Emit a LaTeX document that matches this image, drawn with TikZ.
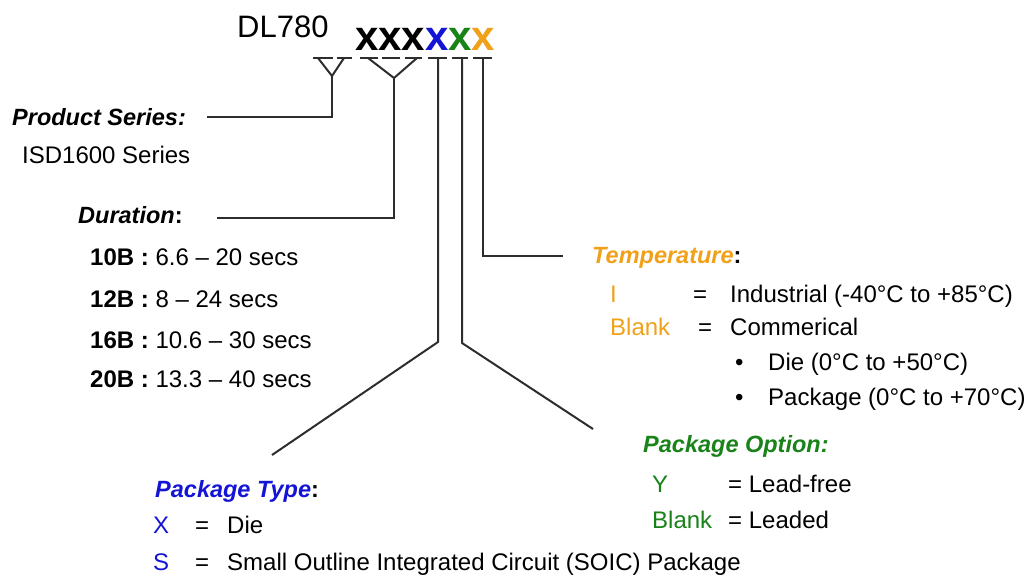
\documentclass[tikz,border=0pt]{standalone}
\usepackage{fontspec}
\setmainfont{Liberation Sans}
\definecolor{ptblue}{RGB}{20,20,215}
\definecolor{ptgreen}{RGB}{25,130,25}
\definecolor{ptorange}{RGB}{240,160,25}
\definecolor{lngray}{RGB}{45,45,45}
\begin{document}
\begin{tikzpicture}[x=1pt, y=-1pt,
		txt/.style={anchor=base west, inner sep=0pt, font=\fontsize{24}{28}\selectfont},
		hd/.style={txt, font=\fontsize{23.5}{28}\selectfont\bfseries\itshape},
		ln/.style={line width=2pt, color=lngray}]
		\useasboundingbox (0, 0) rectangle (1027, 582);

		\node[txt, font=\fontsize{31}{34}\selectfont] (dl) at (237, 37) {DL780};
		\node[txt, font=\fontsize{42}{44}\selectfont\bfseries] (xs) at (355, 50) {xxx\textcolor{ptblue}{x}\textcolor{ptgreen}{x}\textcolor{ptorange}{x}};

		\foreach \a/\b in {313/333, 337/352, 360/378, 382/400, 405/422, 428/447, 452/468, 473/492}
		\draw[ln] (\a, 58) -- (\b, 58);

		\coordinate (a1) at (318, 58);
		\coordinate (a2) at (344, 58);
		\coordinate (a3) at (368, 58);
		\coordinate (a4) at (417, 58);
		\coordinate (a5) at (438, 58);
		\coordinate (a6) at (462, 58);
		\coordinate (a7) at (483, 58);
		\coordinate (y1) at (332, 76);
		\coordinate (y2) at (394, 78);
		\coordinate (k1) at (332, 117);
		\coordinate (k2) at (394, 218);
		\coordinate (k3) at (483, 256);
		\coordinate (k4) at (438, 342);
		\coordinate (k5) at (462, 343);
		\coordinate (e1) at (207, 117);
		\coordinate (e2) at (217, 218);
		\coordinate (e3) at (563, 256);
		\coordinate (e4) at (272, 455);
		\coordinate (e5) at (593, 429);

		\draw[ln] (a1) -- (y1) -- (a2);
		\draw[ln] (a3) -- (y2) -- (a4);
		\draw[ln] (y1) -- (k1) -- (e1);
		\draw[ln] (y2) -- (k2) -- (e2);
		\draw[ln] (a7) -- (k3) -- (e3);
		\draw[ln] (a5) -- (k4) -- (e4);
		\draw[ln] (a6) -- (k5) -- (e5);

		\node[hd] (ps) at (12, 125) {Product Series:};
		\node[txt] (isd) at (22, 163) {ISD1600 Series};

		\node[hd] (dur) at (78, 223) {Duration\textup{:}};
		\node[txt] (d1) at (90, 265) {\textbf{10B :} 6.6 – 20 secs};
		\node[txt] (d2) at (90, 307) {\textbf{12B :} 8 – 24 secs};
		\node[txt] (d3) at (90, 348) {\textbf{16B :} 10.6 – 30 secs};
		\node[txt] (d4) at (90, 387) {\textbf{20B :} 13.3 – 40 secs};

		\node[hd] (tmp) at (592, 263) {\textcolor{ptorange}{Temperature}\textup{:}};
		\node[txt, text=ptorange] (t1) at (610, 302) {I};
		\node[txt] (t1q) at (693, 302) {=};
		\node[txt] (t1v) at (730, 302) {Industrial (-40°C to +85°C)};
		\node[txt, text=ptorange] (t2) at (610, 335) {Blank};
		\node[txt] (t2q) at (698, 335) {=};
		\node[txt] (t2v) at (730, 335) {Commerical};
		\node[txt] (b1) at (735, 370) {•};
		\node[txt] (b1v) at (768, 370) {Die (0°C to +50°C)};
		\node[txt] (b2) at (735, 405) {•};
		\node[txt] (b2v) at (768, 405) {Package (0°C to +70°C)};

		\node[hd, text=ptgreen] (opt) at (643, 452) {Package Option:};
		\node[txt, text=ptgreen] (o1) at (652, 492) {Y};
		\node[txt] (o1v) at (728, 492) {= Lead-free};
		\node[txt, text=ptgreen] (o2) at (652, 528) {Blank};
		\node[txt] (o2v) at (728, 528) {= Leaded};

		\node[hd] (typ) at (155, 497) {\textcolor{ptblue}{Package Type}\textup{:}};
		\node[txt, text=ptblue] (p1) at (153, 533) {X};
		\node[txt] (p1q) at (195, 533) {=};
		\node[txt] (p1v) at (227, 533) {Die};
		\node[txt, text=ptblue] (p2) at (153, 570) {S};
		\node[txt] (p2q) at (195, 570) {=};
		\node[txt] (p2v) at (227, 570) {Small Outline Integrated Circuit (SOIC) Package};

	\end{tikzpicture}
\end{document}
